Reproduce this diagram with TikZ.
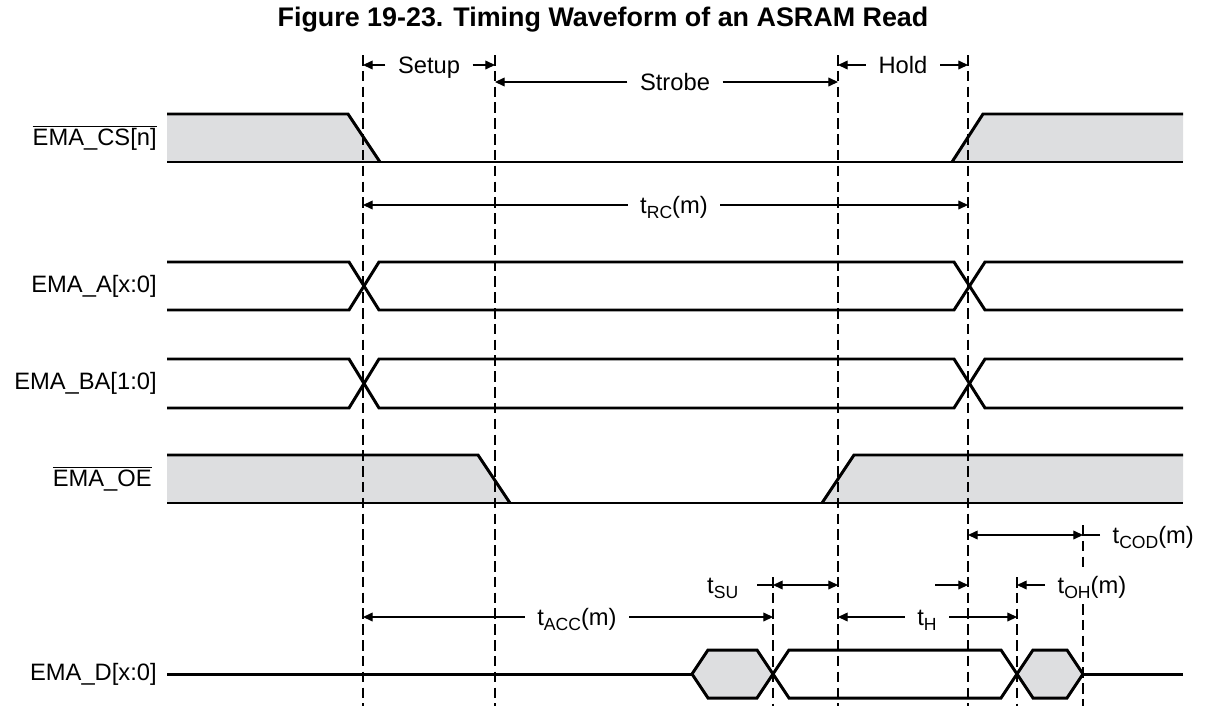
\documentclass[tikz,border=0pt]{standalone}
\usepackage{fontspec}
\setmainfont{Liberation Sans}
\usetikzlibrary{arrows.meta, positioning}
\definecolor{wavegray}{RGB}{221,222,224}
\newcommand{\tsub}[1]{\raisebox{-2.8pt}{\fontsize{10}{12}\selectfont #1}}
\newcommand{\barsig}[1]{$\overline{\mbox{#1}}$}

\begin{document}
\begin{tikzpicture}[
        x=0.02cm, y=-0.02cm,
        >={Triangle[length=5.5pt,width=5pt]},
        wave/.style={
            line width=1.7pt,
            line join=miter
        },
        wavefill/.style={fill=wavegray},
        marker/.style={
            line width=0.6pt,
            dash pattern=on 6pt off 3pt
        },
        dim/.style={line width=0.7pt},
        lbl/.style={
            font=\fontsize{13.5}{16}\selectfont,
            fill=white,
            inner xsep=7pt,
            inner ysep=4pt,
            text height=9.7pt,
            text depth=0pt
        },
        siglbl/.style={
            font=\fontsize{13.5}{16}\selectfont,
            inner sep=0pt
        },
        node distance=2mm
    ]

        \useasboundingbox (0,0) rectangle (1207,710);

        \node[font=\fontsize{15.3}{18}\selectfont\bfseries] (title) at (603,20) {Figure 19-23. Timing Waveform of an ASRAM Read};

        % timing marks
        \coordinate (csfall) at (363,55);
        \coordinate (strobebeg) at (495,55);
        \coordinate (strobeend) at (838,55);
        \coordinate (holdend) at (968,55);
        \coordinate (dsetup) at (773,577);
        \coordinate (dhold) at (1017,577);
        \coordinate (dcod) at (1083,525);
        \coordinate (bottom) at (0,706);

        % signal names
        \coordinate (csin) at (167,138);
        \coordinate (ain) at (167,286);
        \coordinate (bain) at (167,383);
        \coordinate (oein) at (167,479);
        \coordinate (din) at (167,674);
        \node[siglbl, left=of csin] (cslbl) {\barsig{EMA\_CS[n]}};
        \node[siglbl, left=of ain] (albl) {EMA\_A[x:0]};
        \node[siglbl, left=of bain] (balbl) {EMA\_BA[1:0]};
        \node[siglbl, left=3mm of oein] (oelbl) {\barsig{EMA\_OE}};
        \node[siglbl, left=of din] (dlbl) {EMA\_D[x:0]};

        % fills
        \fill[wavefill] (167,114) -- (348,114) -- (380,162) -- (167,162) -- cycle;
        \fill[wavefill] (952,162) -- (983,114) -- (1183,114) -- (1183,162) -- cycle;
        \fill[wavefill] (167,455) -- (478,455) -- (510,503) -- (167,503) -- cycle;
        \fill[wavefill] (822,503) -- (854,455) -- (1183,455) -- (1183,503) -- cycle;
        \fill[wavefill] (692,674) -- (708,650) -- (757,650) -- (773,674) -- (757,698) -- (708,698) -- cycle;
        \fill[wavefill] (1017,674) -- (1033,650) -- (1067,650) -- (1083,674) -- (1067,698) -- (1033,698) -- cycle;

        \draw[marker] (csfall) -- (csfall |- bottom);
        \draw[marker] (strobebeg) -- (strobebeg |- bottom);
        \draw[marker] (strobeend) -- (strobeend |- bottom);
        \draw[marker] (holdend) -- (holdend |- bottom);
        \draw[marker] (dsetup) -- (dsetup |- bottom);
        \draw[marker] (dhold) -- (dhold |- bottom);
        \draw[marker] (dcod) -- (dcod |- bottom);

        % waveforms
        \draw[wave] (167,114) -- (348,114) -- (380,162);
        \draw[wave] (167,162) -- (1183,162);
        \draw[wave] (952,162) -- (983,114) -- (1183,114);

        \draw[wave] (167,262) -- (349,262) -- (379,310) -- (954,310) -- (985,262) -- (1183,262);
        \draw[wave] (167,310) -- (349,310) -- (379,262) -- (954,262) -- (985,310) -- (1183,310);

        \draw[wave] (167,359) -- (349,359) -- (379,408) -- (954,408) -- (985,359) -- (1183,359);
        \draw[wave] (167,408) -- (349,408) -- (379,359) -- (954,359) -- (985,408) -- (1183,408);

        \draw[wave] (167,455) -- (478,455) -- (510,503);
        \draw[wave] (167,503) -- (1183,503);
        \draw[wave] (822,503) -- (854,455) -- (1183,455);

        \draw[wave] (167,674) -- (692,674);
        \draw[wave] (692,674) -- (708,650) -- (757,650) -- (773,674) -- (757,698) -- (708,698) -- cycle;
        \draw[wave] (773,674) -- (789,650) -- (1001,650) -- (1017,674) -- (1001,698) -- (789,698) -- cycle;
        \draw[wave] (1017,674) -- (1033,650) -- (1067,650) -- (1083,674) -- (1067,698) -- (1033,698) -- cycle;
        \draw[wave] (1083,674) -- (1183,674);

        % intervals
        \node[lbl] (setuplbl) at (429,65) {Setup};
        \node[lbl] (strobelbl) at (675,82) {Strobe};
        \node[lbl] (holdlbl) at (903,65) {Hold};
        \node[lbl] (rclbl) at (674,205) {t\tsub{RC}(m)};
        \draw[dim,->] (setuplbl) -- (setuplbl -| csfall);
        \draw[dim,->] (setuplbl) -- (setuplbl -| strobebeg);
        \draw[dim,->] (strobelbl) -- (strobelbl -| strobebeg);
        \draw[dim,->] (strobelbl) -- (strobelbl -| strobeend);
        \draw[dim,->] (holdlbl) -- (holdlbl -| strobeend);
        \draw[dim,->] (holdlbl) -- (holdlbl -| holdend);
        \draw[dim,->] (rclbl) -- (rclbl -| csfall);
        \draw[dim,->] (rclbl) -- (rclbl -| holdend);

        \node[lbl, anchor=west] (codlbl) at (1100,535) {t\tsub{COD}(m)};
        \draw[dim] (codlbl) -- (codlbl -| dcod);
        \draw[dim,<->] (codlbl -| holdend) -- (codlbl -| dcod);

        \node[lbl, anchor=east, inner xsep=10.5pt] (sulbl) at (757,585) {t\tsub{SU}};
        \draw[dim] (sulbl) -- (sulbl -| dsetup);
        \draw[dim,<->] (sulbl -| dsetup) -- (sulbl -| strobeend);

        \coordinate (ohstub) at (935,585);
        \draw[dim,->] (ohstub) -- (ohstub -| holdend);
        \node[lbl, anchor=west] (ohlbl) at (1045,585) {t\tsub{OH}(m)};
        \draw[dim,->] (ohlbl) -- (ohlbl -| dhold);

        \node[lbl] (acclbl) at (577,617) {t\tsub{ACC}(m)};
        \draw[dim,->] (acclbl) -- (acclbl -| csfall);
        \draw[dim,->] (acclbl) -- (acclbl -| dsetup);
        \node[lbl] (hlbl) at (927,617) {t\tsub{H}};
        \draw[dim,->] (hlbl) -- (hlbl -| strobeend);
        \draw[dim,->] (hlbl) -- (hlbl -| dhold);

    \end{tikzpicture}
\end{document}
